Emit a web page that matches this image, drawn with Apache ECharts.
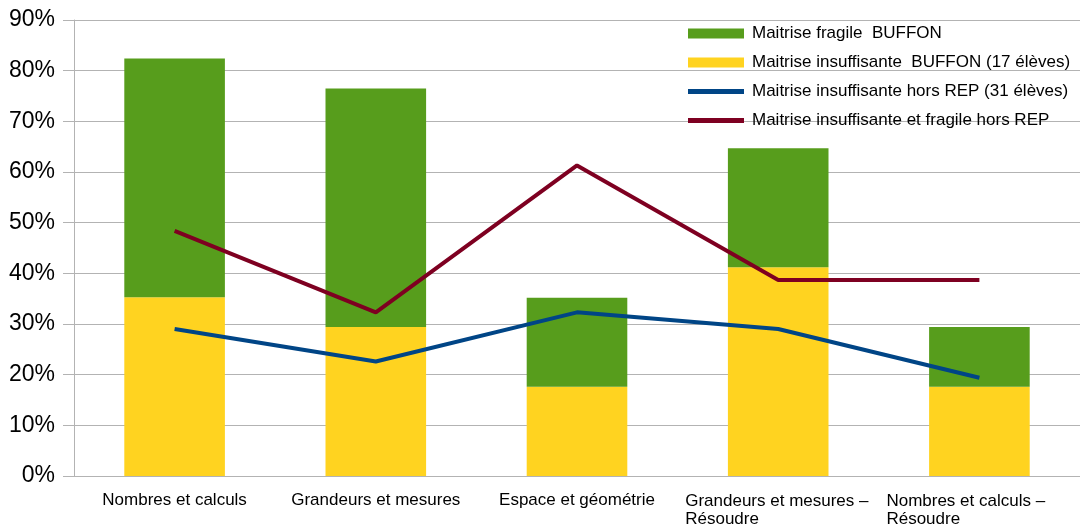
<!DOCTYPE html>
<html>
<head>
<meta charset="utf-8">
<script src="https://cdn.jsdelivr.net/npm/echarts@6/dist/echarts.min.js"></script>
<style>
  html, body { margin: 0; padding: 0; background: #fff; }
  #chart { width: 1080px; height: 528px; }
</style>
</head>
<body>
<div id="chart"></div>
<script>
// catégories (axe x)
var categories = ['Nombres et calculs', 'Grandeurs et mesures', 'Espace et géométrie',
    'Grandeurs et mesures –\nRésoudre', 'Nombres et calculs –\nRésoudre'];
// BUFFON, 17 élèves (en %)
var insuffBuffon = [35.3, 29.4, 17.6, 41.2, 17.6];
var fragileBuffon = [47.1, 47.1, 17.6, 23.5, 11.8];
// hors REP, 31 élèves (en %)
var insuffHorsRep = [29.0, 22.6, 32.3, 29.0, 19.4];
var insuffFragileHorsRep = [48.4, 32.3, 61.3, 38.7, 38.7];

var names = ['Maitrise fragile  BUFFON', 'Maitrise insuffisante  BUFFON (17 élèves)',
    'Maitrise insuffisante hors REP (31 élèves)', 'Maitrise insuffisante et fragile hors REP'];

var myChart = echarts.init(document.getElementById('chart'));
var font = '"Liberation Sans", Arial, sans-serif';
// icônes de légende : rectangle plein pour les barres, trait plus fin pour les courbes
var barIcon = 'path://M0,0H56V10H0Z';
var lineIcon = 'path://M0,0H56V5H0Z';

var option = {
    animation: false,
    textStyle: { fontFamily: font },
    grid: { left: 74, right: 0, top: 20, bottom: 52 },
    legend: {
        orient: 'vertical',
        left: 688,
        top: 25,
        padding: 0,
        itemWidth: 56,
        itemHeight: 10,
        itemGap: 12,
        symbolKeepAspect: true,
        textStyle: { fontSize: 17, color: '#000', fontFamily: font, padding: [0, 0, 0, 3] },
        data: [
            { name: names[0], icon: barIcon },
            { name: names[1], icon: barIcon },
            { name: names[2], icon: lineIcon },
            { name: names[3], icon: lineIcon }
        ]
    },
    xAxis: {
        type: 'category',
        data: categories,
        axisLine: { lineStyle: { color: '#b3b3b3' } },
        axisTick: { length: 10, lineStyle: { color: '#b3b3b3' } },
        axisLabel: {
            fontSize: 17,
            color: '#000',
            margin: 16,
            interval: 0,
            formatter: function (v) {
                if (v.indexOf('\n') < 0) return v;
                return v.split('\n').map(function (s) { return '{l|' + s + '}'; }).join('\n');
            },
            rich: { l: { width: 186, align: 'left', fontSize: 17, color: '#000', fontFamily: font, lineHeight: 18 } }
        }
    },
    yAxis: {
        type: 'value',
        min: 0,
        max: 90,
        interval: 10,
        axisLine: { show: true, lineStyle: { color: '#b3b3b3' } },
        axisTick: { show: true, length: 11, lineStyle: { color: '#b3b3b3' } },
        splitLine: { lineStyle: { color: '#b3b3b3' } },
        axisLabel: { fontSize: 23, color: '#000', margin: 19, formatter: '{value}%' }
    },
    series: [
        {
            name: names[1], type: 'bar', stack: 'buffon', barWidth: '50%',
            itemStyle: { color: '#ffd320' }, data: insuffBuffon
        },
        {
            name: names[0], type: 'bar', stack: 'buffon', barWidth: '50%',
            itemStyle: { color: '#579d1c' }, data: fragileBuffon
        },
        {
            name: names[2], type: 'line', symbol: 'none',
            lineStyle: { color: '#004586', width: 4 }, itemStyle: { color: '#004586' },
            data: insuffHorsRep
        },
        {
            name: names[3], type: 'line', symbol: 'none',
            lineStyle: { color: '#7e0021', width: 4 }, itemStyle: { color: '#7e0021' },
            data: insuffFragileHorsRep
        }
    ]
};
myChart.setOption(option);
</script>
</body>
</html>
